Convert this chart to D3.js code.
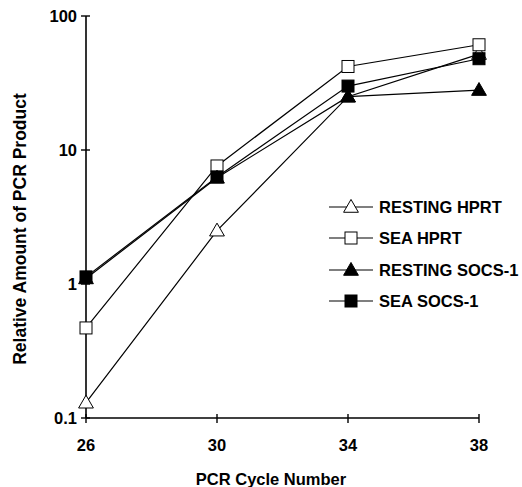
<!DOCTYPE html>
<html>
<head>
<meta charset="utf-8">
<script src="https://cdn.jsdelivr.net/npm/d3@7"></script>
<style>
  body { margin: 0; background: #fff; }
  text { font-family: Arial, "Liberation Sans", sans-serif; font-weight: bold; }
</style>
</head>
<body>
<div id="chart"></div>
<script>
var cycles = [26, 30, 34, 38];
var seriesNames = ["RESTING HPRT", "SEA HPRT", "RESTING SOCS-1", "SEA SOCS-1"];
var restingHPRT = [0.13, 2.5, 25, 52];
var seaHPRT = [0.47, 7.6, 42, 61];
var restingSOCS = [1.1, 6.2, 25, 28];
var seaSOCS = [1.13, 6.3, 30, 48];
var yTicks = [0.1, 1, 10, 100];
var yTickLabels = ["0.1", "1", "10", "100"];

var series = [
  { name: seriesNames[0], values: restingHPRT, shape: "triangle", fill: "#fff" },
  { name: seriesNames[1], values: seaHPRT, shape: "square", fill: "#fff" },
  { name: seriesNames[2], values: restingSOCS, shape: "triangle", fill: "#000" },
  { name: seriesNames[3], values: seaSOCS, shape: "square", fill: "#000" }
];

var width = 522, height = 487;
var svg = d3.select("#chart").append("svg")
  .attr("width", width)
  .attr("height", height);

var x = d3.scaleLinear().domain([26, 38]).range([86, 479]);
var y = d3.scaleLog().domain([0.1, 100]).range([418, 16]);

// axes lines
svg.append("line")
  .attr("x1", x(26)).attr("x2", x(26))
  .attr("y1", y(100)).attr("y2", y(0.1))
  .attr("stroke", "#000").attr("stroke-width", 1.6);
svg.append("line")
  .attr("x1", x(26)).attr("x2", x(38))
  .attr("y1", y(0.1)).attr("y2", y(0.1))
  .attr("stroke", "#000").attr("stroke-width", 1.6);

// y ticks (cross the axis)
svg.selectAll(".ytick").data(yTicks).enter().append("line")
  .attr("x1", x(26) - 5).attr("x2", x(26) + 4)
  .attr("y1", function (d) { return y(d); })
  .attr("y2", function (d) { return y(d); })
  .attr("stroke", "#000").attr("stroke-width", 1.4);
svg.selectAll(".ylab").data(yTicks).enter().append("text")
  .attr("x", x(26) - 9)
  .attr("y", function (d) { return y(d) + 6; })
  .attr("text-anchor", "end")
  .attr("font-size", 16.5)
  .text(function (d, i) { return yTickLabels[i]; });

// x ticks
svg.selectAll(".xtick").data(cycles).enter().append("line")
  .attr("x1", function (d) { return x(d); })
  .attr("x2", function (d) { return x(d); })
  .attr("y1", y(0.1) - 4).attr("y2", y(0.1) + 5)
  .attr("stroke", "#000").attr("stroke-width", 1.4);
svg.selectAll(".xlab").data(cycles).enter().append("text")
  .attr("x", function (d) { return x(d); })
  .attr("y", 451)
  .attr("text-anchor", "middle")
  .attr("font-size", 16.5)
  .text(function (d) { return d; });

svg.append("text")
  .attr("x", 271).attr("y", 485)
  .attr("text-anchor", "middle")
  .attr("font-size", 16.5)
  .text("PCR Cycle Number");

svg.append("text")
  .attr("transform", "translate(26,229) rotate(-90)")
  .attr("text-anchor", "middle")
  .attr("font-size", 17.5)
  .text("Relative Amount of PCR Product");

// lines
var line = d3.line()
  .x(function (d, i) { return x(cycles[i]); })
  .y(function (d) { return y(d); });

svg.selectAll(".series-line").data(series).enter().append("path")
  .attr("d", function (s) { return line(s.values); })
  .attr("fill", "none")
  .attr("stroke", "#000")
  .attr("stroke-width", 1.2);

var triangle = d3.symbol().type(d3.symbolTriangle).size(95);
function drawMarker(g, s, cx, cy) {
  if (s.shape === "square") {
    g.append("rect")
      .attr("x", cx - 6).attr("y", cy - 6)
      .attr("width", 12).attr("height", 12)
      .attr("fill", s.fill).attr("stroke", "#000").attr("stroke-width", 1);
  } else {
    g.append("path")
      .attr("d", triangle())
      .attr("transform", "translate(" + cx + "," + (cy + 1) + ")")
      .attr("fill", s.fill).attr("stroke", "#000").attr("stroke-width", 1);
  }
}

series.forEach(function (s) {
  var g = svg.append("g");
  s.values.forEach(function (v, i) {
    drawMarker(g, s, x(cycles[i]), y(v));
  });
});

// legend
var legendY = [207, 238, 270, 301];
series.forEach(function (s, i) {
  var g = svg.append("g");
  g.append("line")
    .attr("x1", 329).attr("x2", 373)
    .attr("y1", legendY[i]).attr("y2", legendY[i])
    .attr("stroke", "#000").attr("stroke-width", 1.2);
  drawMarker(g, s, 351, legendY[i]);
  g.append("text")
    .attr("x", 379).attr("y", legendY[i] + 6)
    .attr("font-size", 16.5)
    .text(s.name);
});
</script>
</body>
</html>
